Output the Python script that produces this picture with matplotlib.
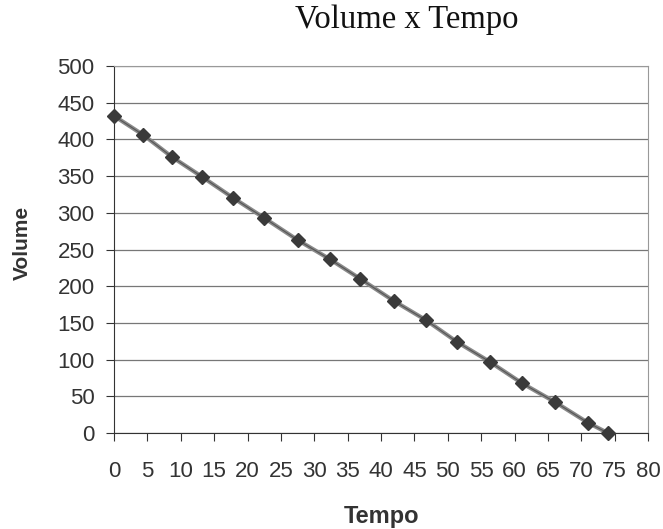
import matplotlib
matplotlib.use("Agg")
import matplotlib.pyplot as plt

# readings from the chart
tempo = [0, 4.4, 8.7, 13.2, 17.9, 22.5, 27.5, 32.3, 36.9, 41.9, 46.7, 51.4, 56.3, 61.1, 66.1, 71.0, 74.0]
volume = [432, 406, 376, 349, 320, 293, 263, 237, 210, 180, 154, 124, 97, 68, 42, 14, 0]
x_ticks = list(range(0, 85, 5))
y_ticks = list(range(0, 550, 50))

plt.rcParams['font.family'] = ['Liberation Sans', 'DejaVu Sans']

fig = plt.figure(figsize=(6.63, 5.29), dpi=100)
# plot box: x 114..648 px, y 66..433 px
ax = fig.add_axes([114 / 663, 96 / 529, 534 / 663, 367 / 529])

ax.plot(tempo, volume, color='#8a8a8a', lw=3, zorder=3, clip_on=False)
ax.plot(tempo, volume, color='#555555', lw=0.8, zorder=4, clip_on=False)
ax.plot(tempo, volume, ls='none', marker='D', ms=7, color='#3a3a3a', zorder=5, clip_on=False)

ax.set_xlim(0, 80)
ax.set_ylim(0, 500)
ax.set_xticks(x_ticks)
ax.set_yticks(y_ticks)
ax.tick_params(labelsize=16, colors='#333333', length=6, width=0.8)
ax.tick_params(axis='x', pad=14)
ax.tick_params(axis='y', pad=8)
ax.yaxis.grid(True, color='#777777', lw=0.9)
ax.set_axisbelow(True)

for side in ['top', 'right']:
    ax.spines[side].set_color('#999999')
    ax.spines[side].set_linestyle((0, (1, 1)))
for side in ['left', 'bottom']:
    ax.spines[side].set_color('#333333')

ax.set_xlabel('Tempo', fontsize=17, fontweight='bold', color='#333333', va='baseline')
ax.xaxis.set_label_coords(0.5, (433 - 523) / 367)
ax.set_ylabel('Volume', fontsize=15, fontweight='bold', color='#333333', va='center')
ax.yaxis.set_label_coords((22 - 114) / 534, (433 - 243) / 367)

fig.text(407 / 663, (529 - 28) / 529, 'Volume x Tempo', fontsize=23.5, family='Liberation Serif',
         ha='center', va='baseline', color='#111111')

fig.savefig('out.png', dpi=100)
